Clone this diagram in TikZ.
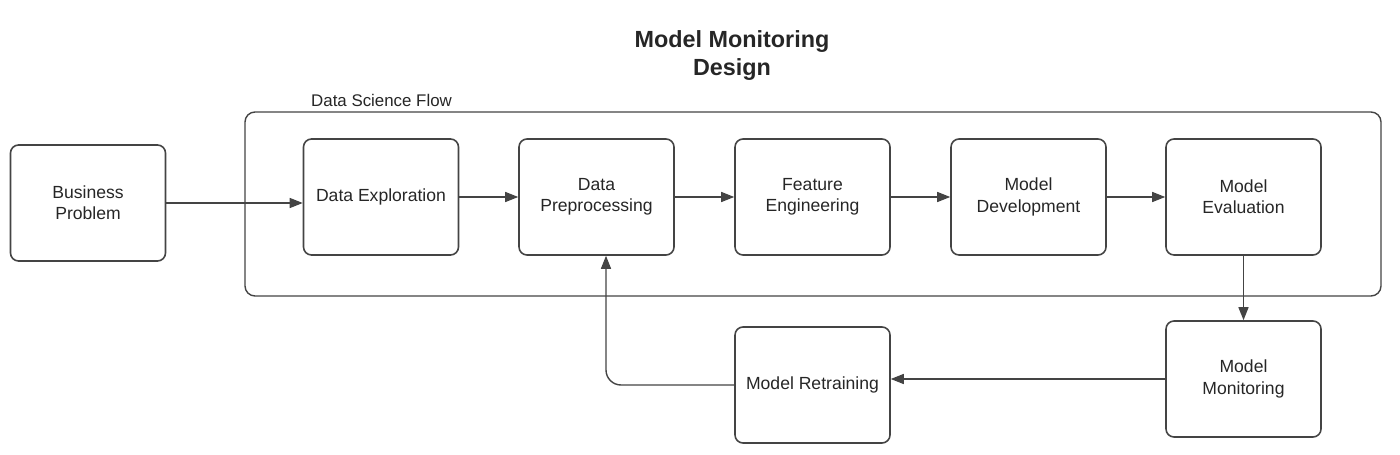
\documentclass[tikz,border=0pt]{standalone}
\usepackage{fontspec}
\setmainfont{Liberation Sans}
\usepackage{tikz}
\usepackage{xcolor}
\usetikzlibrary{arrows.meta}
\usetikzlibrary{positioning}

\definecolor{linegray}{HTML}{444444}
\definecolor{textgray}{HTML}{262626}

\tikzset{
    stepbox/.style={draw=linegray, line width=0.9pt, rounded corners=0.16cm,
        minimum width=3.1cm, minimum height=2.32cm, align=center,
        text=textgray, font=\fontsize{10}{12}\selectfont},
    flow/.style={-{Triangle[length=0.26cm,width=0.2cm]}, draw=linegray, line width=0.8pt},
}

\begin{document}
\begin{tikzpicture}
    \useasboundingbox (0,0) rectangle (28,-9.1);

    % title
    \node (title) at (14.64,-1.11) [align=center, text=textgray,
        font=\fontsize{13.3}{16}\selectfont\bfseries] {Model Monitoring\\Design};

    % data science flow frame
    \draw[draw=linegray, line width=0.8pt, rounded corners=0.2cm] (4.9,-2.24) rectangle (27.62,-5.92);
    \node (frame) at (6.1,-2.0) [anchor=west, text=textgray,
        font=\fontsize{9.6}{11}\selectfont] {Data Science Flow};

    \node[stepbox] (problem) at (1.76,-4.06) {Business\\Problem};
    \node[stepbox] (explore) at (7.62,-3.94) {Data Exploration};
    \node[stepbox] (prep) at (11.93,-3.94) {Data\\Preprocessing};
    \node[stepbox] (feature) at (16.25,-3.94) {Feature\\Engineering};
    \node[stepbox] (develop) at (20.57,-3.94) {Model\\Development};
    \node[stepbox] (evaluate) at (24.87,-3.94) {Model\\Evaluation};
    \node[stepbox] (monitor) at (24.87,-7.58) {Model\\Monitoring};
    \node[stepbox] (retrain) at (16.25,-7.70) {Model Retraining};

    \draw[flow] (problem.east) -- (problem.east -| explore.west);
    \draw[flow] (explore) -- (prep);
    \draw[flow] (prep) -- (feature);
    \draw[flow] (feature) -- (develop);
    \draw[flow] (develop) -- (evaluate);
    \draw[flow] (evaluate) -- (monitor);
    \draw[flow] (monitor.west) -- (monitor.west -| retrain.east);
    \draw[flow, rounded corners=0.3cm] (retrain.west) -| ([xshift=0.19cm]prep.south);
\end{tikzpicture}
\end{document}
